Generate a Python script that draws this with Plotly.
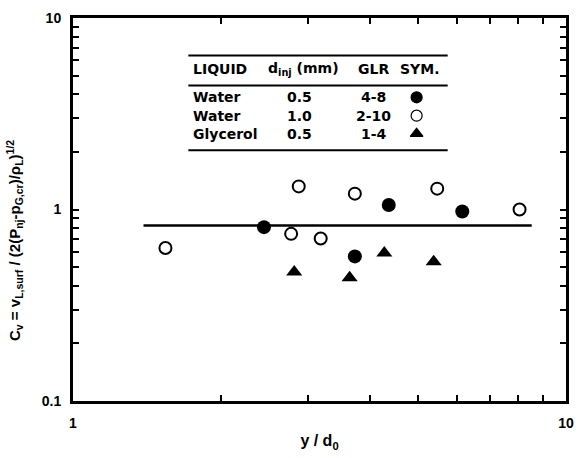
import plotly.graph_objects as go

# ---- data ----
water05_x = [2.44, 4.37, 6.16, 3.73]
water05_y = [0.809, 1.056, 0.977, 0.569]

water10_x = [1.54, 2.87, 2.77, 3.18, 3.73, 5.48, 8.05]
water10_y = [0.63, 1.32, 0.746, 0.705, 1.21, 1.285, 1.0]

glyc05_x = [2.81, 3.64, 4.28, 5.39]
glyc05_y = [0.471, 0.44, 0.592, 0.533]

fit_x = [1.39, 8.52]
fit_y = [0.824, 0.824]

x_tickvals = [1, 2, 3, 4, 5, 6, 7, 8, 9, 10]
x_ticktext = ["1", "", "", "", "", "", "", "", "", "10"]
y_tickvals = [0.1, 0.2, 0.3, 0.4, 0.5, 0.6, 0.7, 0.8, 0.9,
              1, 2, 3, 4, 5, 6, 7, 8, 9, 10]
y_ticktext = ["0.1", "", "", "", "", "", "", "", "",
              "1", "", "", "", "", "", "", "", "", "10"]

table_header = ["LIQUID", "d<sub>inj</sub> (mm)", "GLR", "SYM."]
table_liquid = ["Water", "Water", "Glycerol"]
table_dinj = ["0.5", "1.0", "0.5"]
table_glr = ["4-8", "2-10", "1-4"]

FONT = "Liberation Sans"
TFONT = "DejaVu Sans"

fig = go.Figure()

fig.add_trace(go.Scatter(x=fit_x, y=fit_y, mode="lines",
                         line=dict(color="black", width=2.5), showlegend=False))
fig.add_trace(go.Scatter(x=water05_x, y=water05_y, mode="markers",
                         marker=dict(symbol="circle", size=14, color="black"),
                         showlegend=False))
fig.add_trace(go.Scatter(x=water10_x, y=water10_y, mode="markers",
                         marker=dict(symbol="circle-open", size=12, color="black",
                                     line=dict(width=2, color="black")),
                         showlegend=False))
fig.add_trace(go.Scatter(x=glyc05_x, y=glyc05_y, mode="markers",
                         marker=dict(symbol="triangle-up", size=14, color="black"),
                         showlegend=False))

# ---- table / legend ----
col_x = [0.239, 0.468, 0.61, 0.702]
row_y = [0.793, 0.745, 0.698]
header_y = 0.866
tfont = dict(family=TFONT, size=14, color="black", weight="bold")

for i, h in enumerate(table_header):
    fig.add_annotation(xref="paper", yref="paper", x=col_x[i],
                       y=header_y, text=h, showarrow=False,
                       xanchor="left" if i == 0 else "center", yanchor="middle",
                       font=tfont)
for j in range(3):
    fig.add_annotation(xref="paper", yref="paper", x=col_x[0], y=row_y[j],
                       text=table_liquid[j], showarrow=False, xanchor="left",
                       yanchor="middle", font=tfont)
    fig.add_annotation(xref="paper", yref="paper", x=0.46, y=row_y[j],
                       text=table_dinj[j], showarrow=False, xanchor="center",
                       yanchor="middle", font=tfont)
    fig.add_annotation(xref="paper", yref="paper", x=col_x[2], y=row_y[j],
                       text=table_glr[j], showarrow=False, xanchor="center",
                       yanchor="middle", font=tfont)

# symbols in table via overlay axes
sym_list = ["circle", "circle-open", "triangle-up"]
for j in range(3):
    fig.add_trace(go.Scatter(x=[0.697], y=[row_y[j]], mode="markers",
                             xaxis="x2", yaxis="y2", showlegend=False, opacity=1,
                             marker=dict(symbol=sym_list[j], size=11, color="#000000",
                                         opacity=1,
                                         line=dict(width=1.2, color="#000000"))))

for yy in [0.902, 0.824, 0.655]:
    fig.add_shape(type="line", xref="paper", yref="paper", x0=0.234, x1=0.76,
                  y0=yy, y1=yy, line=dict(color="black", width=2))

# y-axis title
fig.add_annotation(xref="paper", yref="paper", x=-0.12, y=0.42,
                   text="C<sub>v</sub> = v<sub>L,surf</sub> / (2(P<sub>nj</sub>-p<sub>G,cr</sub>)/\u03c1<sub>L</sub>)<sup>1/2</sup>",
                   textangle=-90, showarrow=False, xanchor="center", yanchor="middle",
                   font=dict(family=FONT, size=15, color="black", weight="bold"))

axis_common = dict(type="log", showgrid=False, zeroline=False, showline=True,
                   linecolor="black", linewidth=3, mirror="ticks", ticks="inside",
                   ticklen=6, tickwidth=2, tickcolor="black",
                   tickfont=dict(family=FONT, size=14, color="black", weight="bold"))

fig.update_layout(
    width=584, height=458,
    margin=dict(l=73, r=12, t=10, b=50),
    paper_bgcolor="white", plot_bgcolor="white",
    xaxis=dict(axis_common, range=[0, 1], tickvals=x_tickvals, ticktext=x_ticktext,
               ticklabelstandoff=7,
               title=dict(text="y / d<sub>0</sub>", standoff=6,
                          font=dict(family=FONT, size=16, color="black", weight="bold"))),
    yaxis=dict(axis_common, range=[-1, 1], tickvals=y_tickvals, ticktext=y_ticktext,
               ticklabelstandoff=6),
    xaxis2=dict(overlaying="x", range=[0, 1], visible=False),
    yaxis2=dict(overlaying="y", range=[0, 1], visible=False),
)

fig.write_html("out.html")
